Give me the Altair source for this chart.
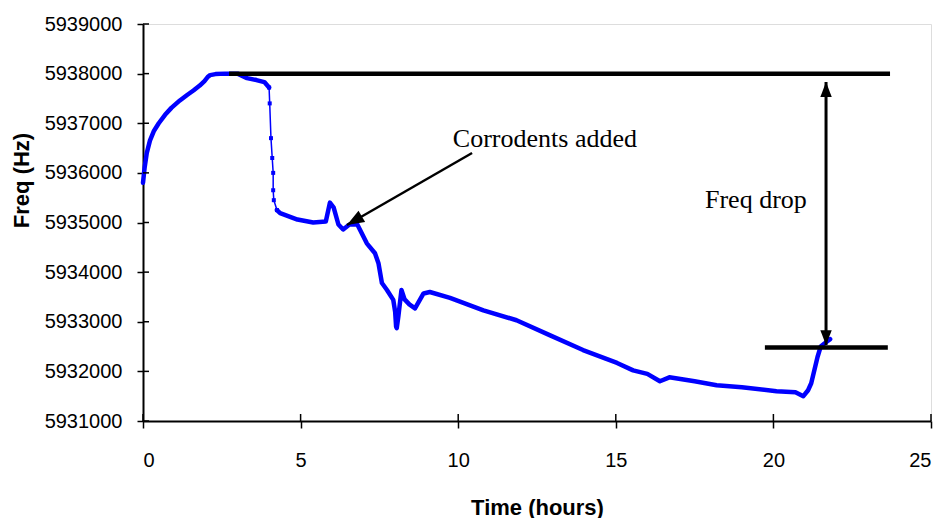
import altair as alt
import pandas as pd

# ---- data ----
rise_t = [0.0, 0.05, 0.12, 0.22, 0.35, 0.5, 0.7, 0.9, 1.17, 1.4, 1.6, 1.8, 1.95, 2.05, 2.13, 2.3, 2.6, 3.0, 3.3, 3.6, 3.85, 4.0]
rise_f = [5935800, 5936100, 5936400, 5936650, 5936850, 5937000, 5937170, 5937310, 5937460, 5937570, 5937660, 5937760,
          5937850, 5937930, 5937970, 5937990, 5938000, 5938000, 5937910, 5937870, 5937830, 5937720]

drop_t = [4.0, 4.02, 4.06, 4.1, 4.13, 4.13, 4.15, 4.25]
drop_f = [5937720, 5937400, 5936700, 5936300, 5936000, 5935650, 5935450, 5935250]

tail_t = [4.25, 4.35, 4.9, 5.4, 5.8, 5.93, 6.05, 6.2, 6.35, 6.55, 6.8, 7.1, 7.36, 7.47, 7.58, 7.74, 7.94, 8.0, 8.03,
          8.05, 8.1, 8.2, 8.3, 8.45, 8.63, 8.9, 9.1, 9.74, 10.8, 11.85, 12.9, 13.96, 15.04, 15.55, 16.0, 16.4, 16.7,
          17.5, 18.2, 19.0, 20.1, 20.7, 20.95, 21.1, 21.2, 21.4, 21.5, 21.7, 21.8]
tail_f = [5935250, 5935190, 5935060, 5935000, 5935020, 5935400, 5935300, 5934960, 5934860, 5934960, 5934960, 5934580,
          5934380, 5934180, 5933780, 5933640, 5933440, 5933200, 5932900, 5932870, 5933100, 5933640, 5933450, 5933350,
          5933270, 5933570, 5933600, 5933480, 5933230, 5933030, 5932730, 5932430, 5932170, 5932020, 5931950, 5931800,
          5931880, 5931800, 5931720, 5931680, 5931600, 5931580, 5931500, 5931620, 5931760, 5932290, 5932500, 5932600,
          5932650]

x_ticks = [0, 5, 10, 15, 20, 25]
y_ticks = [5931000, 5932000, 5933000, 5934000, 5935000, 5936000, 5937000, 5938000, 5939000]

# annotation geometry (data units)
hlines_t1 = [2.73, 19.73]
hlines_t2 = [23.7, 23.63]
hlines_f = [5938000, 5932480]
drop_arrow_t = 21.67
drop_arrow_f = [5937830, 5932530]
corr_arrow_t = [10.44, 6.47]
corr_arrow_f = [5936400, 5934950]
labels_text = ["Corrodents added", "Freq drop"]
labels_t = [9.83, 17.83]
labels_f = [5936520, 5935290]

# ---- build tables ----
thick = pd.concat([
    pd.DataFrame({"t": rise_t, "f": rise_f, "seg": "a"}),
    pd.DataFrame({"t": tail_t, "f": tail_f, "seg": "b"}),
], ignore_index=True)
thick["order"] = range(len(thick))
thin = pd.DataFrame({"t": drop_t, "f": drop_f})
thin["order"] = range(len(thin))

W, H = 788, 397
BLUE = "#0000FF"
SANS = "Liberation Sans, Arial, sans-serif"
SERIF = "Liberation Serif, Times New Roman, serif"

xscale = alt.Scale(domain=[0, 25], nice=False, zero=False)
yscale = alt.Scale(domain=[5931000, 5939000], nice=False, zero=False)

xaxis = alt.Axis(values=x_ticks, tickSize=7, tickColor="black", tickWidth=1.5, domainColor="black", domainWidth=2,
                 labelFontSize=20, labelFont=SANS, labelColor="black", labelPadding=22, grid=False,
                 title="Time (hours)", titleFont=SANS, titleFontSize=22, titleFontWeight="bold", titleColor="black",
                 titleY=86, titleBaseline="middle")
yaxis = alt.Axis(values=y_ticks, format="d", tickSize=6, tickColor="black", tickWidth=1.5, domainColor="black",
                 domainWidth=2, labelFontSize=20, labelFont=SANS, labelColor="black", labelPadding=15, grid=False,
                 title="Freq (Hz)", titleFont=SANS, titleFontSize=22, titleFontWeight="bold", titleColor="black",
                 titleX=-122, titleY=156, titleAngle=270, titleAlign="center", titleBaseline="middle")

line = alt.Chart(thick).mark_line(color=BLUE, strokeWidth=4.5, strokeCap="round", strokeJoin="round").encode(
    x=alt.X("t:Q", scale=xscale, axis=xaxis),
    y=alt.Y("f:Q", scale=yscale, axis=yaxis),
    detail="seg:N",
    order="order:Q",
)
line_thin = alt.Chart(thin).mark_line(color=BLUE, strokeWidth=1.5).encode(
    x=alt.X("t:Q", scale=xscale), y=alt.Y("f:Q", scale=yscale), order="order:Q")
pts = alt.Chart(thin).mark_square(color=BLUE, size=16, opacity=1).encode(
    x=alt.X("t:Q", scale=xscale), y=alt.Y("f:Q", scale=yscale))

# inner halves of the crossing tick marks
ytick_df = pd.DataFrame({"f": y_ticks})
xtick_df = pd.DataFrame({"t": x_ticks})
yin = alt.Chart(ytick_df).mark_rule(color="black", strokeWidth=1.5).encode(
    y=alt.Y("f:Q", scale=yscale), x=alt.value(0), x2=alt.value(6))
xin = alt.Chart(xtick_df).mark_rule(color="black", strokeWidth=1.5).encode(
    x=alt.X("t:Q", scale=xscale), y=alt.value(H), y2=alt.value(H - 7))

hl_df = pd.DataFrame({"t1": hlines_t1, "t2": hlines_t2, "f": hlines_f})
hl = alt.Chart(hl_df).mark_rule(color="black", strokeWidth=4.5).encode(
    x=alt.X("t1:Q", scale=xscale), x2="t2:Q", y=alt.Y("f:Q", scale=yscale))

va_df = pd.DataFrame({"t": [drop_arrow_t], "f1": [drop_arrow_f[0]], "f2": [drop_arrow_f[1]]})
va = alt.Chart(va_df).mark_rule(color="black", strokeWidth=3).encode(
    x=alt.X("t:Q", scale=xscale), y=alt.Y("f1:Q", scale=yscale), y2="f2:Q")

ca_df = pd.DataFrame({"t1": [corr_arrow_t[0]], "f1": [corr_arrow_f[0]], "t2": [corr_arrow_t[1]], "f2": [corr_arrow_f[1]]})
ca = alt.Chart(ca_df).mark_rule(color="black", strokeWidth=2.5).encode(
    x=alt.X("t1:Q", scale=xscale), y=alt.Y("f1:Q", scale=yscale), x2="t2:Q", y2="f2:Q")

TRI = "M0,0L-0.5,1.3L0.5,1.3Z"
heads_df = pd.DataFrame({
    "t": [drop_arrow_t, drop_arrow_t, corr_arrow_t[1]],
    "f": [drop_arrow_f[0], drop_arrow_f[1], corr_arrow_f[1]],
    "ang": [0, 180, 240],
    "sz": [520, 520, 700],
})
heads = alt.Chart(heads_df).mark_point(shape=TRI, filled=True, color="black", opacity=1, strokeWidth=0).encode(
    x=alt.X("t:Q", scale=xscale), y=alt.Y("f:Q", scale=yscale),
    angle=alt.Angle("ang:Q", scale=None),
    size=alt.Size("sz:Q", scale=None, legend=None),
)

txt_df = pd.DataFrame({"label": labels_text, "t": labels_t, "f": labels_f})
txt = alt.Chart(txt_df).mark_text(font=SERIF, fontSize=26, color="black", align="left", baseline="alphabetic").encode(
    x=alt.X("t:Q", scale=xscale), y=alt.Y("f:Q", scale=yscale), text="label:N")

chart = alt.layer(line, line_thin, pts, yin, xin, hl, va, ca, heads, txt).properties(
    width=W, height=H,
    autosize=alt.AutoSizeParams(type="none"),
    padding={"left": 135, "top": 16, "right": 4, "bottom": 97},
).configure_view(stroke="#808080", strokeWidth=1.5).configure(background="white")

chart.save("out.html", embed_options={"renderer": "svg", "actions": False})
